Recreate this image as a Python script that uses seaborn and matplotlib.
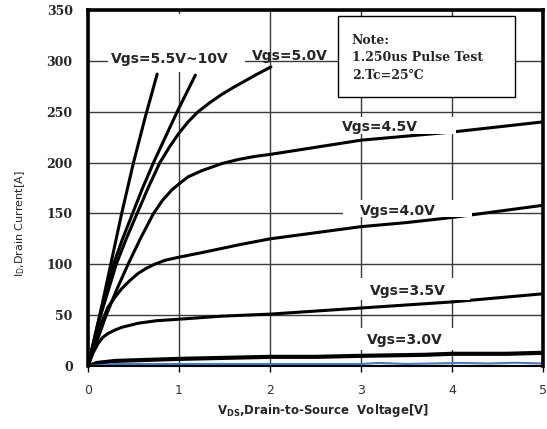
import numpy as np
import pandas as pd
import matplotlib
matplotlib.use('Agg')
import matplotlib.pyplot as plt
import seaborn as sns
from matplotlib.patches import Rectangle

# output characteristics (VDS [V], ID [A])
vds_10v_a = [0, 0.13, 0.25, 0.37, 0.50, 0.63, 0.76]
id_10v_a = [0, 50, 100, 150, 200, 245, 287]
vds_10v_b = [0, 0.13, 0.28, 0.38, 0.49, 0.6, 0.72, 0.85, 0.98, 1.08, 1.18]
id_10v_b = [0, 50, 100, 125, 150, 175, 200, 225, 250, 268, 286]
vds_5v0 = [0, 0.14, 0.31, 0.42, 0.54, 0.66, 0.79, 0.9, 1.0, 1.1, 1.21, 1.34,
           1.47, 1.6, 1.72, 1.86, 2.01]
id_5v0 = [0, 50, 100, 125, 150, 175, 200, 216, 229, 240, 250, 259,
          267, 274, 280, 287, 294]
vds_4v5 = [0, 0.1, 0.2, 0.32, 0.44, 0.58, 0.72, 0.82, 0.92, 1.0, 1.1, 1.25,
           1.47, 1.65, 1.83, 2.0, 2.5, 3.0, 3.5, 4.0, 4.5, 5.0]
id_4v5 = [0, 25, 50, 76, 100, 126, 150, 163, 173, 179, 186, 192,
          199, 203, 206, 208, 215, 222, 226, 230, 235, 240]
vds_4v0 = [0, 0.05, 0.11, 0.16, 0.22, 0.3, 0.37, 0.46, 0.55, 0.64, 0.73, 0.85,
           1.0, 1.28, 1.65, 2.0, 2.5, 3.0, 3.5, 4.0, 4.5, 5.0]
id_4v0 = [0, 16, 32, 45, 58, 68, 76, 84, 91, 96, 100, 104,
          107, 112, 119, 125, 131, 137, 141, 146, 152, 158]
vds_3v5 = [0, 0.05, 0.11, 0.16, 0.22, 0.3, 0.37, 0.46, 0.55, 0.75, 1.0, 1.47,
           2.0, 2.5, 3.0, 3.5, 4.0, 4.5, 5.0]
id_3v5 = [0, 12, 22, 28, 32, 35.5, 38, 40, 42, 44.5, 46, 49,
          51, 54, 57, 60, 63, 67, 71]
vds_3v0 = [0, 0.1, 0.3, 1.0, 2.0, 2.5, 3.0, 3.7, 4.0, 4.6, 5.0]
id_3v0 = [0, 3, 5, 7, 9, 9, 10, 11, 12, 12, 13]
vds_low = [0, 0.3, 1.0, 2.0, 3.0, 3.2, 3.5, 4.1, 4.4, 4.7, 5.0]
id_low = [0, 2, 2, 2, 2, 3, 2, 3, 2.5, 3.2, 2.5]

labels = ['Vgs=5.5V~10V', 'Vgs=5.0V', 'Vgs=4.5V', 'Vgs=4.0V', 'Vgs=3.5V', 'Vgs=3.0V']
label_x = [0.90, 2.22, 3.21, 3.40, 3.51, 3.48]
label_y = [302, 305, 235, 152.5, 74, 26]
# white boxes behind labels (x0, y0, width, height) in data units
label_boxes = [(0.22, 289, 1.51, 57), None, (2.71, 228, 1.33, 17),
               (2.80, 146, 1.42, 17), (2.93, 65, 1.27, 22), (2.93, 16, 1.27, 21)]

note_lines = ['Note:', '1.250us Pulse Test', '2.Tc=25\u2103']

sns.set_style('white')

fig = plt.figure(figsize=(5.47, 4.29), dpi=100)
ax = fig.add_axes([88 / 547, 63 / 429, 455 / 547, 356 / 429])

curves = [(vds_10v_a, id_10v_a, 'black', 2.2),
          (vds_10v_b, id_10v_b, 'black', 2.2),
          (vds_5v0, id_5v0, 'black', 2.2),
          (vds_4v5, id_4v5, 'black', 2.2),
          (vds_4v0, id_4v0, 'black', 2.2),
          (vds_3v5, id_3v5, 'black', 2.2),
          (vds_3v0, id_3v0, 'black', 3.0),
          (vds_low, id_low, '#4f7ab8', 1.5)]
for x, y, c, lw in curves:
    df = pd.DataFrame({'vds': x, 'id': y})
    sns.lineplot(data=df, x='vds', y='id', color=c, lw=lw, sort=False,
                 estimator=None, ax=ax, zorder=2)

ax.set_xlim(0, 5)
ax.set_ylim(0, 350)
ax.set_xticks(range(0, 6))
ax.set_yticks(range(0, 351, 50))
ax.set_axisbelow(True)
ax.grid(True, color='#3a3a3a', lw=1.0)

for s in ax.spines.values():
    s.set_visible(True)
    s.set_color('black')
    s.set_linewidth(2.6)
ax.spines['bottom'].set_linewidth(1.5)

ax.tick_params(axis='x', direction='out', length=4, width=1, color='black',
               pad=9, labelsize=9, labelcolor='#333333', bottom=True)
ax.tick_params(axis='y', length=0, pad=11)
for t in ax.get_yticklabels():
    t.set_fontfamily('DejaVu Serif')
    t.set_fontweight('bold')
    t.set_fontsize(9)

for box in label_boxes:
    if box is not None:
        ax.add_patch(Rectangle(box[:2], box[2], box[3], facecolor='white',
                               edgecolor='none', zorder=3))
for txt, x, y in zip(labels, label_x, label_y):
    ax.text(x, y, txt, ha='center', va='center', fontsize=10,
            fontweight='bold', family='DejaVu Sans', zorder=4)

# note box
ax.add_patch(Rectangle((2.75, 264), 1.94, 80.5, facecolor='white',
                       edgecolor='black', lw=1.0, zorder=3))
for i, line in enumerate(note_lines):
    ax.text(2.90, 320 - i * 17, line, ha='left', va='center', fontsize=9,
            fontweight='bold', family=['DejaVu Serif', 'DejaVu Sans'], zorder=4)

ax.set_xlabel(r'V$_\mathbf{DS}$,Drain-to-Source  Voltage[V]', fontsize=8.5,
              fontweight='bold', family='DejaVu Sans')
ax.xaxis.set_label_coords(0.516, -0.124)
ax.xaxis.label.set_verticalalignment('center')
ax.set_ylabel(r'I$_\mathregular{D}$,Drain Current[A]', fontsize=8,
              family='DejaVu Sans')
ax.yaxis.set_label_coords(-0.149, 0.40)
ax.yaxis.label.set_verticalalignment('center')

fig.savefig('out.png', dpi=100)
